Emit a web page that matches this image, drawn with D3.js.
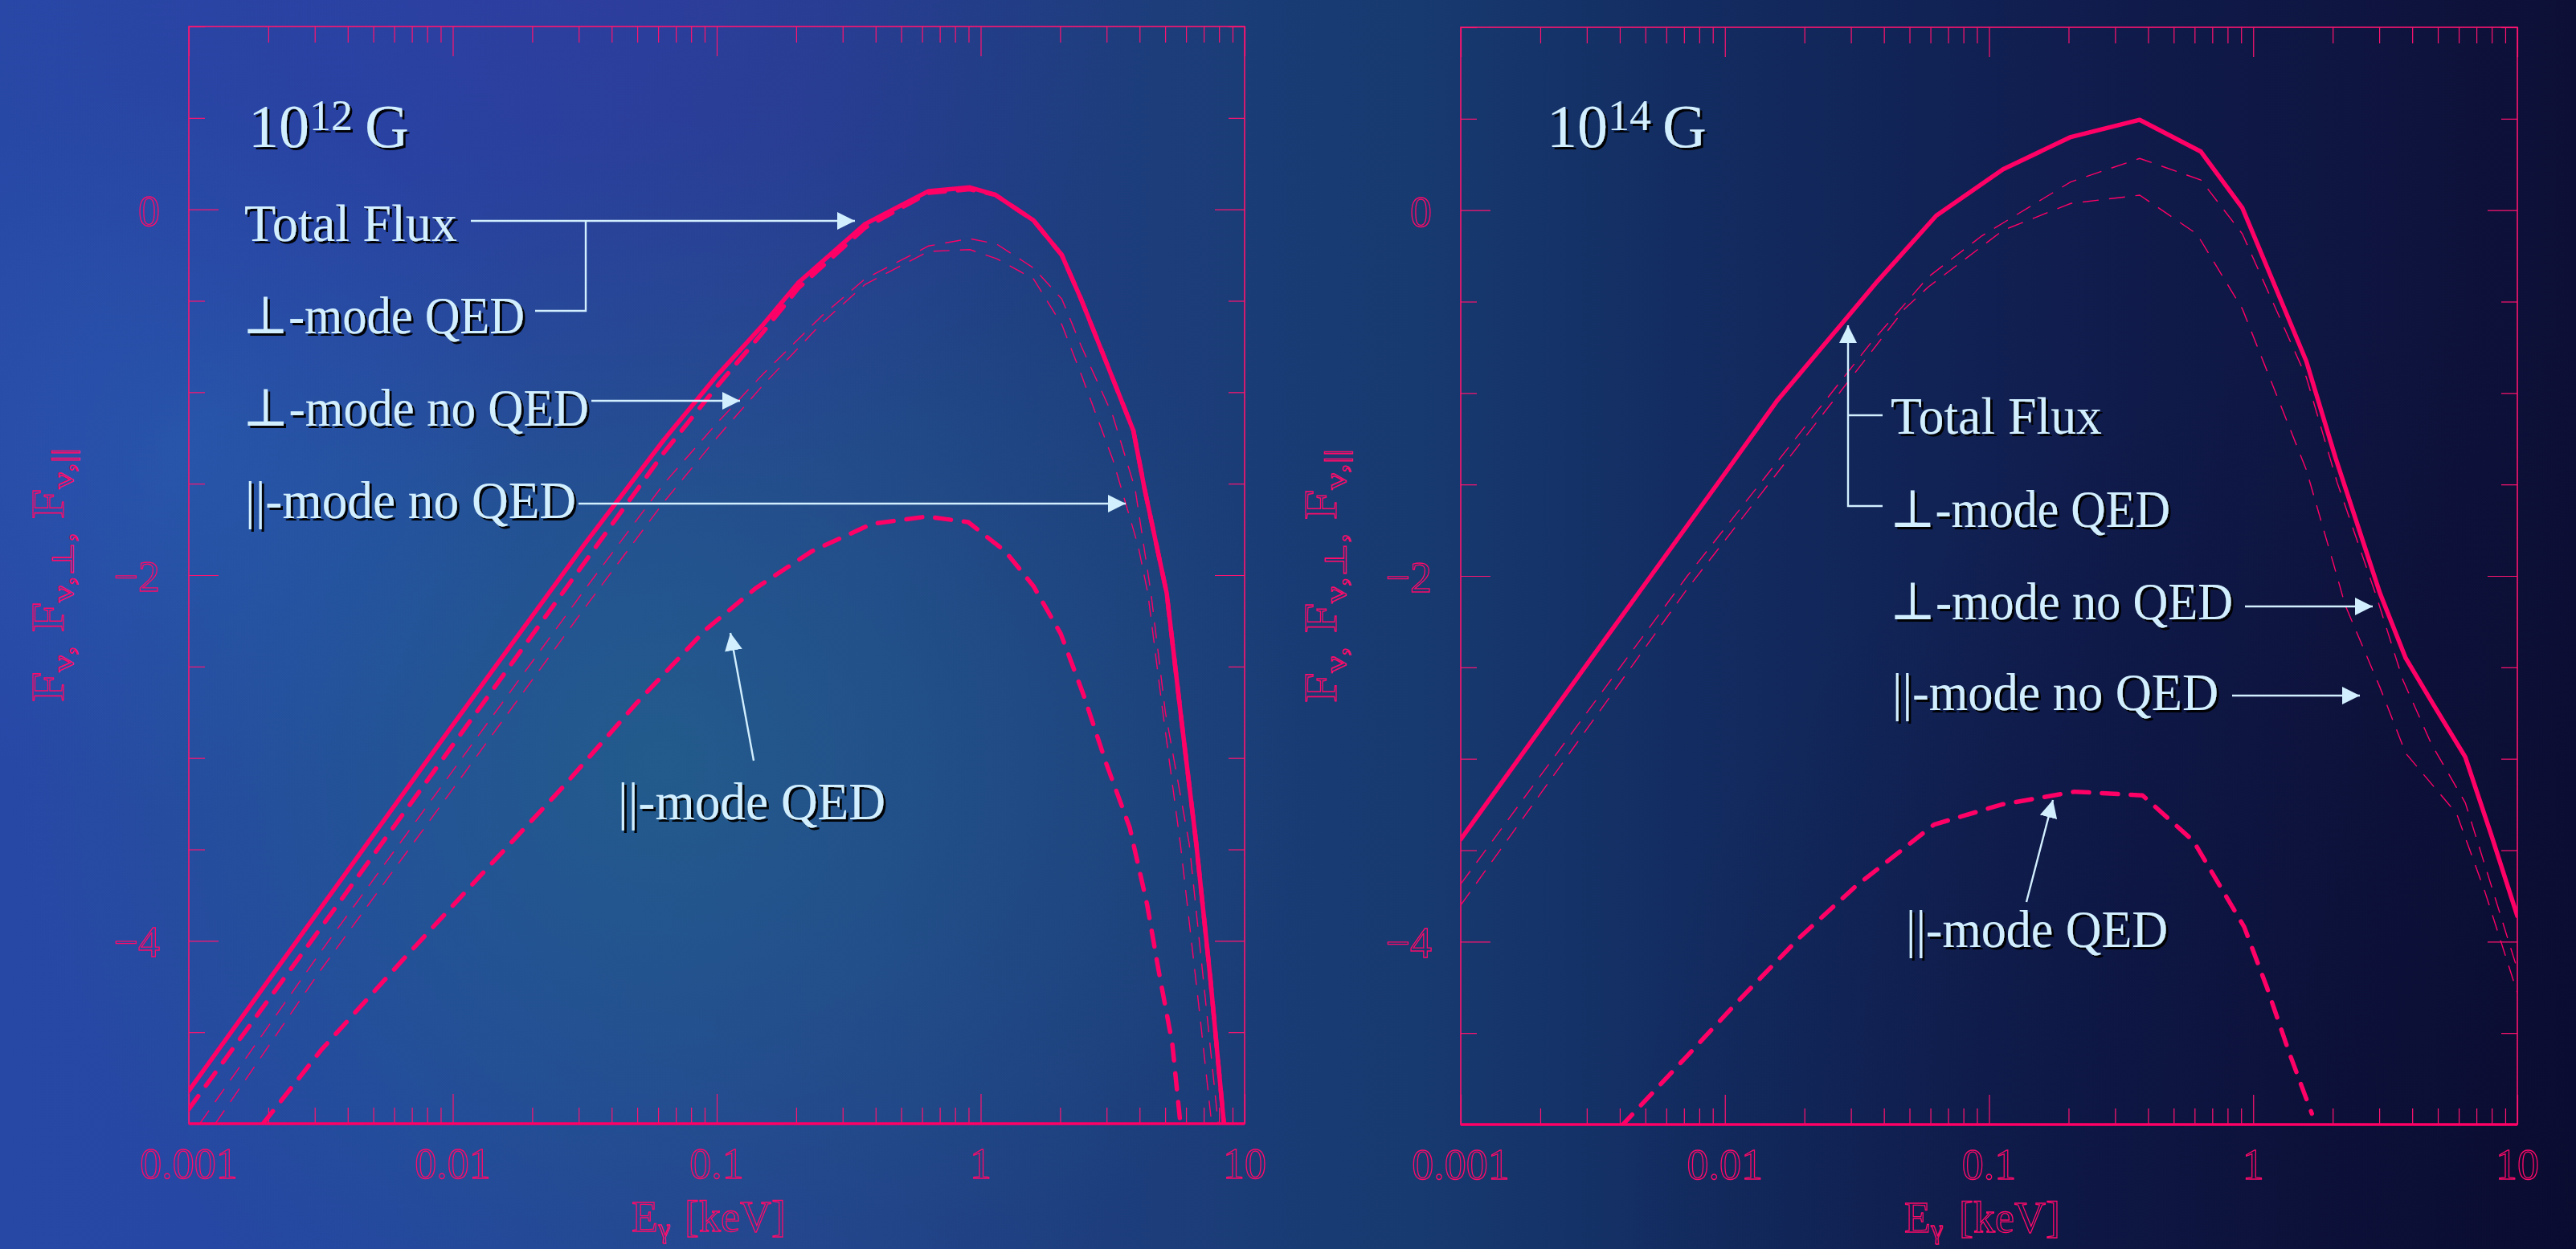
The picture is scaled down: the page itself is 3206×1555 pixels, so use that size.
<!DOCTYPE html>
<html>
<head>
<meta charset="utf-8">
<script src="https://cdn.jsdelivr.net/npm/d3@7"></script>
<style>
  body { margin: 0; overflow: hidden; background: #0e1038; }
  svg { display: block; }
  .label { font-family: "Liberation Serif", "DejaVu Serif", serif; fill: #d2efff; filter: url(#shadow); }
  .num { font-family: "Liberation Serif", "DejaVu Serif", serif; fill: none; stroke: #ff0a6a; stroke-width: 1.3; }
</style>
</head>
<body>
<div class="svg-container"></div>
<script>
// energies in keV, fluxes as log10 values

// 10^12 G panel
const leftTotalE = [0.001, 0.00316, 0.01, 0.0316, 0.0631, 0.1, 0.150, 0.204, 0.365, 0.635, 0.910, 1.135, 1.585, 2.03, 2.40, 3.00, 3.79, 4.18, 5.07, 5.75, 6.56, 7.41, 8.41];
const leftTotalF = [-4.82, -3.82, -2.82, -1.83, -1.26, -0.91, -0.63, -0.40, -0.08, 0.10, 0.12, 0.08, -0.06, -0.25, -0.49, -0.84, -1.21, -1.53, -2.10, -2.78, -3.47, -4.20, -5.05];
const leftPerpQedF = [-4.92, -3.93, -2.93, -1.93, -1.33, -0.97, -0.67, -0.43, -0.10, 0.09, 0.11, 0.08, -0.06, -0.25, -0.49, -0.84, -1.21, -1.53, -2.10, -2.78, -3.47, -4.20, -5.05];

const leftPerpNoQedE = [0.0011, 0.00316, 0.01, 0.0316, 0.0631, 0.1, 0.150, 0.251, 0.365, 0.635, 0.910, 1.151, 1.585, 2.03, 2.40, 3.17, 3.85, 4.42, 5.01, 6.17, 7.08, 7.94];
const leftPerpNoQedF = [-5.0, -4.06, -3.07, -2.08, -1.50, -1.17, -0.90, -0.58, -0.38, -0.20, -0.16, -0.19, -0.32, -0.49, -0.745, -1.13, -1.53, -2.10, -2.75, -3.47, -4.30, -5.0];

const leftParNoQedE = [0.00126, 0.00316, 0.01, 0.0316, 0.0631, 0.1, 0.150, 0.251, 0.365, 0.635, 0.910, 1.151, 1.585, 2.03, 2.40, 3.17, 3.95, 4.30, 4.90, 5.71, 6.76, 7.50];
const leftParNoQedF = [-5.0, -4.16, -3.17, -2.18, -1.60, -1.25, -0.96, -0.62, -0.41, -0.23, -0.22, -0.27, -0.38, -0.63, -0.90, -1.37, -1.84, -2.10, -2.75, -3.47, -4.40, -5.0];

const leftParQedE = [0.00191, 0.00316, 0.00641, 0.0126, 0.0261, 0.0497, 0.0906, 0.141, 0.229, 0.387, 0.624, 0.897, 1.239, 1.585, 2.01, 2.46, 2.99, 3.67, 4.27, 4.72, 5.32, 5.71];
const leftParQedF = [-5.0, -4.6, -4.11, -3.65, -3.16, -2.70, -2.30, -2.07, -1.87, -1.72, -1.68, -1.71, -1.87, -2.06, -2.32, -2.66, -3.03, -3.38, -3.80, -4.16, -4.56, -5.0];

// 10^14 G panel (total and perp-mode QED coincide)
const rightTotalE = [0.001, 0.00316, 0.01, 0.0158, 0.038, 0.0631, 0.113, 0.204, 0.372, 0.634, 0.910, 1.589, 2.05, 3.02, 3.78, 4.84, 6.35, 7.96, 10];
const rightTotalF = [-3.44, -2.44, -1.44, -1.04, -0.385, -0.03, 0.224, 0.40, 0.494, 0.32, 0.012, -0.826, -1.355, -2.095, -2.45, -2.71, -2.99, -3.415, -3.86];

const rightPerpNoQedE = [0.001, 0.00721, 0.0355, 0.0589, 0.094, 0.204, 0.372, 0.634, 0.910, 1.589, 2.08, 2.94, 3.69, 4.73, 6.35, 7.76, 9.46, 10];
const rightPerpNoQedF = [-3.685, -2.0, -0.73, -0.365, -0.14, 0.155, 0.283, 0.165, -0.13, -0.914, -1.49, -2.12, -2.57, -2.92, -3.24, -3.64, -4.04, -4.15];

const rightParNoQedE = [0.001, 0.00721, 0.0479, 0.0589, 0.113, 0.204, 0.372, 0.612, 0.910, 1.589, 2.01, 2.23, 3.02, 3.78, 5.89, 7.55, 10];
const rightParNoQedF = [-3.80, -2.07, -0.54, -0.42, -0.11, 0.037, 0.082, -0.13, -0.54, -1.42, -1.93, -2.16, -2.61, -2.97, -3.30, -3.73, -4.28];

const rightParQedE = [0.00405, 0.00714, 0.01167, 0.0191, 0.0311, 0.0619, 0.1117, 0.211, 0.381, 0.594, 0.925, 1.127, 1.371, 1.667];
const rightParQedF = [-5.01, -4.63, -4.30, -3.98, -3.70, -3.36, -3.25, -3.18, -3.20, -3.45, -3.92, -4.25, -4.61, -4.94];

// axes
const xDomain = [0.001, 10];
const yDomain = [-5, 1];
const xMajor = [0.001, 0.01, 0.1, 1, 10];
const xLabels = ["0.001", "0.01", "0.1", "1", "10"];
const yMajor = [0, -2, -4];
const yLabels = ["0", "\u22122", "\u22124"];

const width = 3206, height = 1555;
const pink = "#ff0066";
const axisPink = "#ff1470";
const textBlue = "#d2efff";

const styles = {
  solid: { w: 5.5, dash: null, cap: "round" },
  thick: { w: 5.5, dash: "20,16", cap: "round" },
  thin: { w: 1.4, dash: "20,13", cap: "butt" }
};

const panels = [
  {
    x0: 235, x1: 1549, y0: 33, y1: 1399, clip: "clipL",
    power: "12", titleX: 309, gX: 454, yTitleX: 79, xTitleX: 786, keVX: 852,
    series: [
      { e: leftParQedE, f: leftParQedF, kind: "thick" },
      { e: leftPerpNoQedE, f: leftPerpNoQedF, kind: "thin" },
      { e: leftParNoQedE, f: leftParNoQedF, kind: "thin" },
      { e: leftTotalE, f: leftPerpQedF, kind: "thick" },
      { e: leftTotalE, f: leftTotalF, kind: "solid" }
    ],
    labels: [
      { t: "Total Flux", x: 304, y: 300, w: 265 },
      { t: "\u22a5-mode QED", x: 302, y: 415, w: 351 },
      { t: "\u22a5-mode no QED", x: 302, y: 530, w: 431 },
      { t: "||-mode no QED", x: 305, y: 645, w: 412 },
      { t: "||-mode QED", x: 769, y: 1020, w: 333 }
    ],
    arrows: [
      { p: [[586, 275], [1064, 275]], head: true },
      { p: [[666, 387], [729, 387], [729, 275]], head: false },
      { p: [[736, 499], [921, 499]], head: true },
      { p: [[720, 627], [1401, 627]], head: true },
      { p: [[938, 947], [909, 788]], head: true }
    ]
  },
  {
    x0: 1818, x1: 3133, y0: 34, y1: 1400, clip: "clipR",
    power: "14", titleX: 1925, gX: 2069, yTitleX: 1663, xTitleX: 2370, keVX: 2438,
    series: [
      { e: rightParQedE, f: rightParQedF, kind: "thick" },
      { e: rightPerpNoQedE, f: rightPerpNoQedF, kind: "thin" },
      { e: rightParNoQedE, f: rightParNoQedF, kind: "thin" },
      { e: rightTotalE, f: rightTotalF, kind: "solid" }
    ],
    labels: [
      { t: "Total Flux", x: 2353, y: 540, w: 263 },
      { t: "\u22a5-mode QED", x: 2352, y: 656, w: 349 },
      { t: "\u22a5-mode no QED", x: 2352, y: 771, w: 427 },
      { t: "||-mode no QED", x: 2355, y: 884, w: 406 },
      { t: "||-mode QED", x: 2372, y: 1179, w: 326 }
    ],
    arrows: [
      { p: [[2343, 630], [2300, 630], [2300, 405]], head: true },
      { p: [[2343, 517], [2300, 517]], head: false },
      { p: [[2794, 755], [2953, 755]], head: true },
      { p: [[2778, 866], [2937, 866]], head: true },
      { p: [[2522, 1123], [2555, 996]], head: true }
    ]
  }
];

let svg = d3.select(".svg-container").append("svg")
  .attr("width", width)
  .attr("height", height);

let defs = svg.append("defs");

// background gradients
let bg = defs.append("linearGradient").attr("id", "bgH")
  .attr("x1", 0).attr("x2", 1).attr("y1", 0).attr("y2", 0);
[[0, "#2848a6"], [0.15, "#2446a0"], [0.3, "#24408f"], [0.45, "#1c3d7a"], [0.55, "#173a70"],
 [0.65, "#132d62"], [0.8, "#101d4e"], [1, "#0d0f36"]].forEach(s => {
  bg.append("stop").attr("offset", s[0]).attr("stop-color", s[1]);
});

const glows = [
  { id: "gTeal", cx: 820, cy: 950, r: 800, c: "#226688", o: 0.7 },
  { id: "gBlue", cx: 230, cy: 560, r: 450, c: "#2a62b4", o: 0.45 },
  { id: "gPurple", cx: 700, cy: -100, r: 750, c: "#3a36a8", o: 0.45 },
  { id: "gDark", cx: 3206, cy: 1555, r: 1200, c: "#08082a", o: 0.5 }
];
glows.forEach(g => {
  let rg = defs.append("radialGradient").attr("id", g.id)
    .attr("gradientUnits", "userSpaceOnUse")
    .attr("cx", g.cx).attr("cy", g.cy).attr("r", g.r);
  rg.append("stop").attr("offset", 0).attr("stop-color", g.c).attr("stop-opacity", g.o);
  rg.append("stop").attr("offset", 1).attr("stop-color", g.c).attr("stop-opacity", 0);
});

svg.append("rect").attr("width", width).attr("height", height).attr("fill", "url(#bgH)");
glows.forEach(g => {
  svg.append("rect").attr("width", width).attr("height", height).attr("fill", "url(#" + g.id + ")");
});

// text shadow
defs.append("filter").attr("id", "shadow")
  .attr("x", "-10%").attr("y", "-20%").attr("width", "130%").attr("height", "150%")
  .append("feDropShadow")
  .attr("dx", 3).attr("dy", 3).attr("stdDeviation", 0.6)
  .attr("flood-color", "#000").attr("flood-opacity", 0.95);

// arrow head
defs.append("marker").attr("id", "head")
  .attr("markerUnits", "userSpaceOnUse")
  .attr("markerWidth", 22).attr("markerHeight", 22)
  .attr("viewBox", "0 0 20 20")
  .attr("refX", 20).attr("refY", 10)
  .attr("orient", "auto")
  .append("path").attr("d", "M0,0 L20,10 L0,20 Z").attr("fill", textBlue);

const drawPanel = p => {
  const x = d3.scaleLog().domain(xDomain).range([p.x0, p.x1]);
  const y = d3.scaleLinear().domain(yDomain).range([p.y1, p.y0]);

  defs.append("clipPath").attr("id", p.clip)
    .append("rect").attr("x", p.x0).attr("y", p.y0)
    .attr("width", p.x1 - p.x0).attr("height", p.y1 - p.y0);

  let g = svg.append("g");

  // ticks on all four sides, pointing inwards
  const minorX = x.ticks().filter(d => !xMajor.includes(d));
  const minorY = y.ticks(12).filter(d => !yMajor.includes(d));
  const tickSets = [
    [d3.axisBottom(x).tickValues(minorX).tickSize(-20), "translate(0," + p.y1 + ")"],
    [d3.axisBottom(x).tickValues(xMajor).tickSize(-37), "translate(0," + p.y1 + ")"],
    [d3.axisTop(x).tickValues(minorX).tickSize(-20), "translate(0," + p.y0 + ")"],
    [d3.axisTop(x).tickValues(xMajor).tickSize(-37), "translate(0," + p.y0 + ")"],
    [d3.axisLeft(y).tickValues(minorY).tickSize(-20), "translate(" + p.x0 + ",0)"],
    [d3.axisLeft(y).tickValues(yMajor).tickSize(-37), "translate(" + p.x0 + ",0)"],
    [d3.axisRight(y).tickValues(minorY).tickSize(-20), "translate(" + p.x1 + ",0)"],
    [d3.axisRight(y).tickValues(yMajor).tickSize(-37), "translate(" + p.x1 + ",0)"]
  ];
  tickSets.forEach(t => {
    let a = g.append("g").attr("transform", t[1]).call(t[0].tickFormat(""));
    a.select(".domain").remove();
    a.selectAll("line").attr("stroke", axisPink).attr("stroke-width", 1.2);
  });

  // frame
  g.append("rect")
    .attr("x", p.x0).attr("y", p.y0)
    .attr("width", p.x1 - p.x0).attr("height", p.y1 - p.y0)
    .attr("fill", "none").attr("stroke", axisPink).attr("stroke-width", 1.6);
  g.append("line")
    .attr("x1", p.x0).attr("x2", p.x1).attr("y1", p.y1).attr("y2", p.y1)
    .attr("stroke", pink).attr("stroke-width", 3.5);

  // tick labels
  g.selectAll(".xlab").data(xMajor).enter().append("text")
    .attr("class", "num")
    .attr("x", d => x(d)).attr("y", p.y1 + 68)
    .attr("text-anchor", "middle").attr("font-size", 54)
    .text((d, i) => xLabels[i]);
  g.selectAll(".ylab").data(yMajor).enter().append("text")
    .attr("class", "num")
    .attr("x", p.x0 - 36).attr("y", d => y(d) + 20)
    .attr("text-anchor", "end").attr("font-size", 54)
    .text((d, i) => yLabels[i]);

  // axis titles
  let yt = g.append("text").attr("class", "num")
    .attr("transform", "translate(" + p.yTitleX + "," + ((p.y0 + p.y1) / 2) + ") rotate(-90)")
    .attr("text-anchor", "middle").attr("font-size", 56)
    .attr("textLength", 316).attr("lengthAdjust", "spacingAndGlyphs");
  yt.append("tspan").text("F");
  yt.append("tspan").attr("font-size", 38).attr("dy", 12).text("\u03bd,");
  yt.append("tspan").attr("dy", -12).text(" F");
  yt.append("tspan").attr("font-size", 38).attr("dy", 12).text("\u03bd,\u22a5,");
  yt.append("tspan").attr("dy", -12).text(" F");
  yt.append("tspan").attr("font-size", 38).attr("dy", 12).text("\u03bd,||");

  let xt = g.append("text").attr("class", "num")
    .attr("x", p.xTitleX).attr("y", p.y1 + 134).attr("font-size", 54);
  xt.append("tspan").text("E");
  xt.append("tspan").attr("font-size", 34).attr("dy", 8).text("\u03b3");
  xt.append("tspan").attr("x", p.keVX).attr("dy", -8).text("[keV]");

  // curves
  const line = d3.line().x(d => x(d[0])).y(d => y(d[1]));
  let curves = g.append("g").attr("clip-path", "url(#" + p.clip + ")");
  p.series.forEach(s => {
    const st = styles[s.kind];
    curves.append("path")
      .attr("d", line(d3.zip(s.e, s.f)))
      .attr("fill", "none")
      .attr("stroke", pink)
      .attr("stroke-width", st.w)
      .attr("stroke-linecap", st.cap)
      .attr("stroke-linejoin", "round")
      .attr("stroke-dasharray", st.dash);
  });

  // panel title
  let title = g.append("text").attr("class", "label")
    .attr("x", p.titleX).attr("y", 183).attr("font-size", 76);
  title.append("tspan").text("10");
  title.append("tspan").attr("font-size", 54).attr("dy", -21).text(p.power);
  title.append("tspan").attr("x", p.gX).attr("dy", 21).text("G");

  // annotation arrows and labels
  const path = d3.line();
  p.arrows.forEach(a => {
    g.append("path")
      .attr("d", path(a.p))
      .attr("fill", "none")
      .attr("stroke", textBlue)
      .attr("stroke-width", 2.4)
      .attr("marker-end", a.head ? "url(#head)" : null);
  });
  g.selectAll(".ann").data(p.labels).enter().append("text")
    .attr("class", "label")
    .attr("x", d => d.x).attr("y", d => d.y)
    .attr("font-size", 66)
    .attr("textLength", d => d.w)
    .attr("lengthAdjust", "spacingAndGlyphs")
    .text(d => d.t);
};

panels.forEach(drawPanel);
</script>
</body>
</html>
